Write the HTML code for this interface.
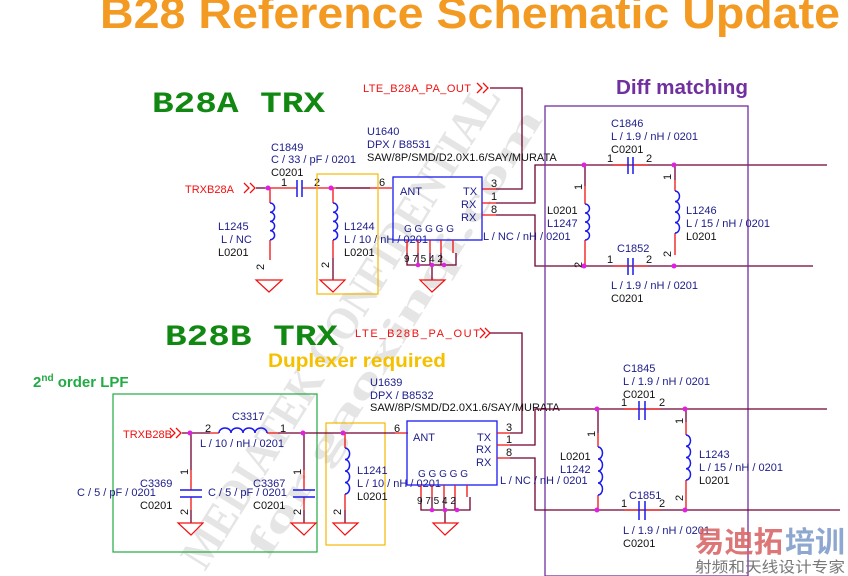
<!DOCTYPE html>
<html><head><meta charset="utf-8"><style>
html,body{margin:0;padding:0;background:#fff;}
svg{display:block;}
text{font-family:"Liberation Sans",sans-serif;}
.n{fill:#1c1c8a;font-size:11px;}
.k{fill:#111;font-size:11px;}
.r{fill:#f01010;font-size:11px;}
.mono{font-family:"Liberation Mono",monospace;font-weight:bold;}
.ser{font-family:"Liberation Serif",serif;font-weight:bold;}
.cjk{font-family:"Liberation Sans","Noto Sans CJK SC",sans-serif;}
.w{stroke:#700030;stroke-width:1.3;fill:none;}
.rd{stroke:#f01010;stroke-width:1.3;fill:none;}
.bl{stroke:#1a1af0;stroke-width:1.5;fill:none;}
.g{stroke:#f01010;stroke-width:1.2;fill:none;}
</style></head><body>
<svg width="848" height="576" viewBox="0 0 848 576" xmlns="http://www.w3.org/2000/svg">
<!-- watermark -->
<g opacity="0.3" fill="#aaa" font-size="46">
<text class="ser" x="0" y="0" transform="translate(205,572) rotate(-58)" textLength="560" lengthAdjust="spacingAndGlyphs">MEDIATEK CONFIDENTIAL</text>
<text class="ser" x="0" y="0" transform="translate(268,560) rotate(-58)" style="font-size:40px" textLength="520" lengthAdjust="spacingAndGlyphs">for gaoxinqi.com</text>
</g>

<text x="100" y="28" font-size="44" font-weight="bold" fill="#f39a22" textLength="740" lengthAdjust="spacingAndGlyphs">B28 Reference Schematic Update</text>

<!-- ===== TOP B28A ===== -->
<text class="mono" x="152" y="112" font-size="30" fill="#118811" textLength="173" lengthAdjust="spacingAndGlyphs">B28A TRX</text>
<text x="363" y="92" class="r" textLength="108">LTE_B28A_PA_OUT</text>
<path class="rd" d="M477,83 l5,5 l-5,5 M483,83 l5,5 l-5,5"/>
<path class="w" d="M490,88 H522 V189 H496"/>
<path class="rd" d="M482,189 H496"/>
<text x="491" y="187" class="k">3</text>

<text x="367" y="135" class="n">U1640</text>
<text x="367" y="148" class="n">DPX / B8531</text>
<text x="367" y="161" class="k">SAW/8P/SMD/D2.0X1.6/SAY/MURATA</text>
<text x="271" y="151" class="n">C1849</text>
<text x="271" y="163" class="n">C / 33 / pF / 0201</text>
<text x="271" y="176" class="k">C0201</text>

<text x="185" y="193" class="r">TRXB28A</text>
<path class="rd" d="M244,183 l5,5 l-5,5 M250,183 l5,5 l-5,5"/>
<path class="w" d="M256,188 H265"/>
<path class="rd" d="M265,188 H297 M302,188 H392"/>
<path class="w" d="M336,188 H370"/>
<path class="bl" d="M297,180 V197 M302,180 V197"/>
<text x="281" y="186" class="k">1</text><text x="314" y="186" class="k">2</text><text x="379" y="186" class="k">6</text>
<rect x="317" y="174" width="61" height="120" fill="none" stroke="#f5b800" stroke-width="1.2"/>
<path class="rd" d="M270,188 V203 M270,240 V260"/>
<path class="bl" d="M270,203 a4.6,4.6 0 0 1 0,9.2 a4.6,4.6 0 0 1 0,9.2 a4.6,4.6 0 0 1 0,9.2 a4.6,4.6 0 0 1 0,9.2"/>
<text x="218" y="230" class="n">L1245</text><text x="221" y="243" class="n">L / NC</text><text x="218" y="256" class="k">L0201</text>
<text x="264" y="270" class="k" transform="rotate(-90 264 270)">2</text>
<path class="g" d="M256,280 H282 L269,292 Z"/>
<path class="rd" d="M333,188 V203 M333,240 V258"/>
<path class="w" d="M333,258 V280"/>
<path class="bl" d="M333,203 a4.6,4.6 0 0 1 0,9.2 a4.6,4.6 0 0 1 0,9.2 a4.6,4.6 0 0 1 0,9.2 a4.6,4.6 0 0 1 0,9.2"/>
<text x="344" y="230" class="n">L1244</text><text x="344" y="243" class="n">L / 10 / nH / 0201</text><text x="344" y="256" class="k">L0201</text>
<text x="329" y="268" class="k" transform="rotate(-90 329 268)">2</text>
<path class="g" d="M320,280 H345 L333,292 Z"/>
<circle cx="268" cy="188" r="2.5" fill="#e020e0"/><circle cx="331" cy="188" r="2.5" fill="#e020e0"/>
<rect x="393" y="177" width="89" height="63" fill="none" stroke="#1a1af0" stroke-width="1.3"/>
<text x="400" y="195" class="n">ANT</text><text x="463" y="195" class="n">TX</text><text x="461" y="208" class="n">RX</text><text x="461" y="221" class="n">RX</text>
<text x="404" y="232" class="n" style="font-size:10px">G G G G G</text>
<path class="rd" d="M407,240 V253 M418,240 V253 M430,240 V253 M441,240 V253 M453,240 V253"/>
<path class="w" d="M407,253 V265 H456 V253 M418,253 V265 M430,253 V265 M441,253 V265 M432,265 V280"/>
<text x="404" y="262" class="k" style="font-size:10px">9 7 5 4 2</text>
<circle cx="418" cy="265" r="2.3" fill="#e020e0"/><circle cx="432" cy="265" r="2.3" fill="#e020e0"/><circle cx="444" cy="265" r="2.3" fill="#e020e0"/>
<path class="g" d="M420,280 H445 L432,292 Z"/>
<path class="rd" d="M482,203 H496 M482,215 H496"/>
<text x="491" y="200" class="k">1</text><text x="491" y="213" class="k">8</text>
<path class="w" d="M496,203 H535 V165 H827 M496,215 H535 V266 H813"/>
<text x="483" y="240" class="n">L / NC / nH / 0201</text>

<text x="616" y="94" font-size="20" font-weight="bold" fill="#7030a0" textLength="132" lengthAdjust="spacingAndGlyphs">Diff matching</text>
<rect x="545" y="106" width="203" height="470" fill="none" stroke="#7030a0" stroke-width="1.3"/>
<text x="611" y="127" class="n">C1846</text><text x="611" y="140" class="n">L / 1.9 / nH / 0201</text><text x="611" y="153" class="k">C0201</text>
<path class="rd" d="M613,165 H628 M633,165 H648"/>
<path class="bl" d="M628,157 V174 M633,157 V174"/>
<text x="607" y="162" class="k">1</text><text x="646" y="162" class="k">2</text>
<path class="bl" d="M628,258 V275 M633,258 V275"/>
<path class="rd" d="M613,266 H628 M633,266 H648"/>
<text x="607" y="263" class="k">1</text><text x="646" y="263" class="k">2</text>
<text x="617" y="252" class="n">C1852</text><text x="611" y="289" class="n">L / 1.9 / nH / 0201</text><text x="611" y="302" class="k">C0201</text>
<path class="rd" d="M585,186 V204 M585,240 V266"/>
<path class="bl" d="M585,204 a4.5,4.5 0 0 1 0,9 a4.5,4.5 0 0 1 0,9 a4.5,4.5 0 0 1 0,9 a4.5,4.5 0 0 1 0,9"/>
<path class="w" d="M585,165 V186"/>
<text x="547" y="214" class="k">L0201</text><text x="547" y="227" class="n">L1247</text>
<text x="582" y="190" class="k" transform="rotate(-90 582 190)">1</text>
<text x="582" y="268" class="k" transform="rotate(-90 582 268)">2</text>
<path class="rd" d="M675,180 V191 M675,233 V255"/>
<path class="w" d="M675,165 V180"/>
<path class="bl" d="M675,191 a4.5,5.25 0 0 1 0,10.5 a4.5,5.25 0 0 1 0,10.5 a4.5,5.25 0 0 1 0,10.5 a4.5,5.25 0 0 1 0,10.5"/>
<text x="686" y="214" class="n">L1246</text><text x="686" y="227" class="n">L / 15 / nH / 0201</text><text x="686" y="240" class="k">L0201</text>
<text x="671" y="180" class="k" transform="rotate(-90 671 180)">1</text>
<text x="671" y="257" class="k" transform="rotate(-90 671 257)">2</text>
<circle cx="584" cy="165" r="2.5" fill="#e020e0"/><circle cx="674" cy="165" r="2.5" fill="#e020e0"/>
<circle cx="584" cy="266" r="2.5" fill="#e020e0"/><circle cx="674" cy="266" r="2.5" fill="#e020e0"/>

<!-- ===== BOTTOM B28B ===== -->
<text class="mono" x="165" y="345" font-size="30" fill="#118811" textLength="173" lengthAdjust="spacingAndGlyphs">B28B TRX</text>
<text x="355" y="337" class="r" textLength="125">LTE_B28B_PA_OUT</text>
<path class="rd" d="M480,328 l5,5 l-5,5 M485,328 l5,5 l-5,5"/>
<path class="w" d="M490,333 H522 V433 H510"/>
<text x="268" y="367" font-size="19" font-weight="bold" fill="#f5c000" textLength="178" lengthAdjust="spacingAndGlyphs">Duplexer required</text>
<text x="33" y="387" font-size="15" font-weight="bold" fill="#22aa44">2<tspan font-size="10" dy="-6">nd</tspan><tspan dy="6"> order LPF</tspan></text>
<text x="370" y="386" class="n">U1639</text><text x="370" y="399" class="n">DPX / B8532</text><text x="370" y="411" class="k">SAW/8P/SMD/D2.0X1.6/SAY/MURATA</text>
<rect x="113" y="394" width="204" height="158" fill="none" stroke="#22aa44" stroke-width="1.2"/>
<rect x="326" y="423" width="59" height="122" fill="none" stroke="#f5b800" stroke-width="1.2"/>
<text x="123" y="438" class="r">TRXB28B</text>
<path class="rd" d="M170,428 l5,5 l-5,5 M176,428 l5,5 l-5,5"/>
<path class="w" d="M182,433 H210 M278,433 H395"/>
<path class="rd" d="M210,433 H219 M267,433 H278 M395,433 H408"/>
<path class="bl" d="M219,433 a6,5 0 0 1 12,0 a6,5 0 0 1 12,0 a6,5 0 0 1 12,0 a6,5 0 0 1 12,0"/>
<text x="232" y="420" class="n">C3317</text><text x="200" y="447" class="n">L / 10 / nH / 0201</text>
<text x="205" y="432" class="k">2</text><text x="280" y="432" class="k">1</text><text x="394" y="432" class="k">6</text>
<path class="w" d="M191,433 V470 M191,510 V523"/>
<path class="rd" d="M191,470 V490 M191,497 V510"/>
<path class="bl" d="M180,490 H202 M180,497 H202"/>
<text x="140" y="487" class="n">C3369</text><text x="77" y="496" class="n">C / 5 / pF / 0201</text><text x="140" y="509" class="k">C0201</text>
<text x="188" y="475" class="k" transform="rotate(-90 188 475)">1</text><text x="188" y="515" class="k" transform="rotate(-90 188 515)">2</text>
<path class="g" d="M178,523 H203 L191,535 Z"/>
<path class="w" d="M304,433 V470 M304,510 V523"/>
<path class="rd" d="M304,470 V490 M304,497 V510"/>
<path class="bl" d="M293,490 H315 M293,497 H315"/>
<text x="253" y="487" class="n">C3367</text><text x="208" y="496" class="n">C / 5 / pF / 0201</text><text x="253" y="509" class="k">C0201</text>
<text x="301" y="475" class="k" transform="rotate(-90 301 475)">1</text><text x="301" y="515" class="k" transform="rotate(-90 301 515)">2</text>
<path class="g" d="M291,523 H316 L304,535 Z"/>
<path class="rd" d="M345,433 V448 M345,494 V510"/>
<path class="w" d="M345,510 V523"/>
<path class="bl" d="M345,448 a4.6,5.75 0 0 1 0,11.5 a4.6,5.75 0 0 1 0,11.5 a4.6,5.75 0 0 1 0,11.5 a4.6,5.75 0 0 1 0,11.5"/>
<text x="357" y="474" class="n">L1241</text><text x="357" y="487" class="n">L / 10 / nH / 0201</text><text x="357" y="500" class="k">L0201</text>
<text x="341" y="515" class="k" transform="rotate(-90 341 515)">2</text>
<path class="g" d="M333,523 H358 L345,535 Z"/>
<circle cx="190" cy="433" r="2.5" fill="#e020e0"/><circle cx="303" cy="433" r="2.5" fill="#e020e0"/><circle cx="343" cy="433" r="2.5" fill="#e020e0"/>
<rect x="407" y="421" width="90" height="64" fill="none" stroke="#1a1af0" stroke-width="1.3"/>
<text x="413" y="441" class="n">ANT</text><text x="477" y="441" class="n">TX</text><text x="476" y="453" class="n">RX</text><text x="476" y="466" class="n">RX</text>
<text x="418" y="477" class="n" style="font-size:10px">G G G G G</text>
<path class="rd" d="M421,485 V497 M432,485 V497 M444,485 V497 M455,485 V497 M467,485 V497"/>
<path class="w" d="M421,497 V510 H470 V497 M432,497 V510 M444,497 V510 M455,497 V510 M445,510 V523"/>
<text x="417" y="504" class="k" style="font-size:10px">9 7 5 4 2</text>
<circle cx="432" cy="510" r="2.3" fill="#e020e0"/><circle cx="445" cy="510" r="2.3" fill="#e020e0"/><circle cx="457" cy="510" r="2.3" fill="#e020e0"/>
<path class="g" d="M433,523 H458 L445,535 Z"/>
<path class="rd" d="M497,433 H510 M497,445 H510 M497,458 H510"/>
<text x="506" y="431" class="k">3</text><text x="506" y="443" class="k">1</text><text x="506" y="456" class="k">8</text>
<path class="w" d="M510,445 H535 V409 H827 M510,458 H535 V510 H840"/>
<text x="500" y="484" class="n">L / NC / nH / 0201</text>
<text x="623" y="372" class="n">C1845</text><text x="623" y="385" class="n">L / 1.9 / nH / 0201</text><text x="623" y="398" class="k">C0201</text>
<path class="rd" d="M624,409 H639 M645,409 H660"/>
<path class="bl" d="M639,401 V420 M645,401 V420"/>
<text x="621" y="406" class="k">1</text><text x="659" y="406" class="k">2</text>
<text x="629" y="499" class="n">C1851</text><text x="623" y="534" class="n">L / 1.9 / nH / 0201</text><text x="623" y="547" class="k">C0201</text>
<path class="rd" d="M624,510 H639 M645,510 H660"/>
<path class="bl" d="M639,501 V520 M645,501 V520"/>
<text x="621" y="507" class="k">1</text><text x="659" y="507" class="k">2</text>
<path class="w" d="M598,409 V433"/>
<path class="rd" d="M598,433 V447 M598,495 V510"/>
<path class="bl" d="M598,447 a4.5,6 0 0 1 0,12 a4.5,6 0 0 1 0,12 a4.5,6 0 0 1 0,12 a4.5,6 0 0 1 0,12"/>
<text x="560" y="460" class="k">L0201</text><text x="560" y="473" class="n">L1242</text>
<text x="595" y="437" class="k" transform="rotate(-90 595 437)">1</text>
<path class="w" d="M686,409 V422"/>
<path class="rd" d="M686,422 V435 M686,480 V510"/>
<path class="bl" d="M686,435 a4.5,5.6 0 0 1 0,11.25 a4.5,5.6 0 0 1 0,11.25 a4.5,5.6 0 0 1 0,11.25 a4.5,5.6 0 0 1 0,11.25"/>
<text x="699" y="458" class="n">L1243</text><text x="699" y="471" class="n">L / 15 / nH / 0201</text><text x="699" y="484" class="k">L0201</text>
<text x="683" y="424" class="k" transform="rotate(-90 683 424)">1</text><text x="683" y="501" class="k" transform="rotate(-90 683 501)">2</text>
<circle cx="597" cy="409" r="2.5" fill="#e020e0"/><circle cx="685" cy="409" r="2.5" fill="#e020e0"/>
<circle cx="597" cy="510" r="2.5" fill="#e020e0"/><circle cx="685" cy="510" r="2.5" fill="#e020e0"/>

<text class="cjk" x="695" y="552" font-weight="bold" font-size="29" fill="#d86060" opacity="0.85" textLength="88" lengthAdjust="spacingAndGlyphs">易迪拓</text>
<text class="cjk" x="785" y="552" font-weight="bold" font-size="29" fill="#7a98c8" opacity="0.85" textLength="60" lengthAdjust="spacingAndGlyphs">培训</text>
<text class="cjk" x="695" y="572" font-size="15" fill="#777" textLength="150" lengthAdjust="spacingAndGlyphs">射频和天线设计专家</text>
</svg>
</body></html>
